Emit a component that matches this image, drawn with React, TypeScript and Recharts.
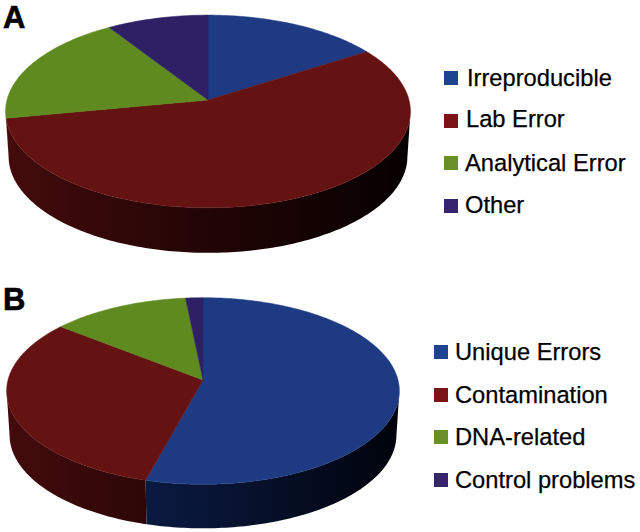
import { Cell, Legend, Pie, PieChart } from "recharts";

const namesA = ["Irreproducible", "Lab Error", "Analytical Error", "Other"];
const valuesA = [15.9, 56.1, 18.9, 9.1];
const namesB = ["Unique Errors", "Contamination", "DNA-related", "Control problems"];
const valuesB = [54.2, 31.5, 12.7, 1.6];

const topColors = ["#1e3a82", "#651212", "#5f8a1f", "#2f2066"];
const legendColors = ["#1d4391", "#7b1418", "#6a8f26", "#36246e"];
const wallStops = [
  ["#0f2358", "#081536", "#000208"],
  ["#440b0b", "#220505", "#060000"],
  ["#2c4210", "#182408", "#050800"],
  ["#180f36", "#0c0820", "#030208"]
];

const FONT = '"Liberation Sans", Arial, sans-serif';

type Look = {
  id: string;
  cx: number;
  cy: number;
  rx: number;
  ry: number;
  tilt: number; // far edge looks smaller than the near edge
  depth: number;
};

const lookA: Look = { id: "a", cx: 208, cy: 100, rx: 201, ry: 95, tilt: 0.119, depth: 45 };
const lookB: Look = { id: "b", cx: 203, cy: 114, rx: 195, ry: 92, tilt: 0.118, depth: 44 };

// disc point -> screen point
function project(look: Look, cx: number, cy: number, r: number, deg: number) {
  const rad = (deg * Math.PI) / 180;
  const w = 1 + look.tilt * Math.sin(rad);
  return [cx + (r * Math.cos(rad)) / w, cy - (look.ry * Math.sin(rad)) / w];
}

function anglesBetween(start: number, end: number) {
  const out: number[] = [];
  const step = end < start ? -1 : 1;
  for (let a = start; step < 0 ? a > end : a < end; a += step) out.push(a);
  out.push(end);
  return out;
}

function topShape(look: Look) {
  return (props: any) => {
    const { cx, cy, outerRadius, startAngle, endAngle, fill } = props;
    const rim = anglesBetween(startAngle, endAngle).map((a) => project(look, cx, cy, outerRadius, a));
    const d = `M${cx},${cy}L${rim.map((p) => p.join(",")).join("L")}Z`;
    return <path d={d} fill={fill} stroke={fill} strokeWidth={0.5} />;
  };
}

function wallShape(look: Look) {
  return (props: any) => {
    const { cx, cy, outerRadius, startAngle, endAngle, fill } = props;
    const visible = anglesBetween(startAngle, endAngle).filter(
      (a) => Math.sin((a * Math.PI) / 180) < -look.tilt
    );
    if (visible.length < 2) return <g />;
    const upper = visible.map((a) => project(look, cx, cy, outerRadius, a));
    const lower = visible
      .slice()
      .reverse()
      .map((a) => {
        const [x, y] = project(look, cx, cy, outerRadius, a);
        return [cx + (x - cx) * 0.985, y + look.depth];
      });
    const d = `M${upper.concat(lower).map((p) => p.join(",")).join("L")}Z`;
    return <path d={d} fill={fill} />;
  };
}

function PanelLegend({ payload, x, textX, textDy, top, gap }: any) {
  // the wall pie also reports entries, only the top pie's four are wanted
  const rows = (payload ?? []).filter((e: any) => e.type !== "none").slice(0, 4);
  return (
    <div>
      {rows.map((entry: any, i: number) => (
        <div key={entry.value}>
          <span
            style={{
              position: "absolute",
              left: x,
              top: top + i * gap - 7,
              width: 14,
              height: 14,
              background: legendColors[i]
            }}
          />
          <span
            style={{
              position: "absolute",
              left: textX[i],
              top: top + i * gap - 15 + textDy[i],
              fontFamily: FONT,
              fontSize: 23.7,
              lineHeight: "30px",
              color: "#000",
              WebkitTextStroke: "0.25px #000",
              whiteSpace: "nowrap"
            }}
          >
            {entry.value}
          </span>
        </div>
      ))}
    </div>
  );
}

function PiePanel({
  look,
  names,
  values,
  top,
  legend
}: {
  look: Look;
  names: string[];
  values: number[];
  top: number;
  legend: { x: number; textX: number[]; textDy: number[]; top: number; gap: number };
}) {
  const data = names.map((name, i) => ({ name, value: values[i] }));
  return (
    <div style={{ position: "absolute", left: 0, top }}>
      <PieChart width={640} height={266} margin={{ top: 0, right: 0, bottom: 0, left: 0 }}>
        <defs>
          {wallStops.map((stops, i) => (
            <linearGradient key={i} id={`wall-${look.id}-${i}`} gradientUnits="userSpaceOnUse" x1={5} x2={410} y1={0} y2={0}>
              <stop offset="0%" stopColor={stops[0]} />
              <stop offset="50%" stopColor={stops[1]} />
              <stop offset="100%" stopColor={stops[2]} />
            </linearGradient>
          ))}
        </defs>
        <Pie
          data={data}
          dataKey="value"
          nameKey="name"
          cx={look.cx}
          cy={look.cy}
          innerRadius={0}
          outerRadius={look.rx}
          startAngle={90}
          endAngle={-270}
          legendType="none"
          shape={wallShape(look)}
          isAnimationActive={false}
          rootTabIndex={-1}
        >
          {names.map((_, i) => (
            <Cell key={i} fill={`url(#wall-${look.id}-${i})`} />
          ))}
        </Pie>
        <Pie
          data={data}
          dataKey="value"
          nameKey="name"
          cx={look.cx}
          cy={look.cy}
          innerRadius={0}
          outerRadius={look.rx}
          startAngle={90}
          endAngle={-270}
          shape={topShape(look)}
          isAnimationActive={false}
          rootTabIndex={-1}
        >
          {names.map((_, i) => (
            <Cell key={i} fill={topColors[i]} />
          ))}
        </Pie>
        <Legend
          layout="vertical"
          align="right"
          verticalAlign="top"
          itemSorter={null}
          wrapperStyle={{ position: "absolute", left: 0, top: 0, width: 0, height: 0 }}
          content={(props: any) => <PanelLegend payload={props.payload} {...legend} />}
        />
      </PieChart>
    </div>
  );
}

const letterStyle = {
  position: "absolute",
  left: 3,
  fontFamily: FONT,
  fontWeight: 700,
  fontSize: 31,
  lineHeight: "34px",
  color: "#000",
  WebkitTextStroke: "0.6px #000"
} as const;

export default function App() {
  return (
    <div style={{ position: "absolute", left: 0, top: 0, width: 640, height: 532, background: "#fff", overflow: "hidden" }}>
      <PiePanel
        look={lookA}
        names={namesA}
        values={valuesA}
        top={0}
        legend={{ x: 444, textX: [467, 466, 465, 465], textDy: [0, -1.5, 0, -1], top: 78, gap: 42.5 }}
      />
      <PiePanel
        look={lookB}
        names={namesB}
        values={valuesB}
        top={266}
        legend={{ x: 434, textX: [455, 455, 455, 455], textDy: [0, 0, 0, 0], top: 86, gap: 42.5 }}
      />
      <div style={{ ...letterStyle, top: 1 }}>A</div>
      <div style={{ ...letterStyle, top: 283 }}>B</div>
    </div>
  );
}
